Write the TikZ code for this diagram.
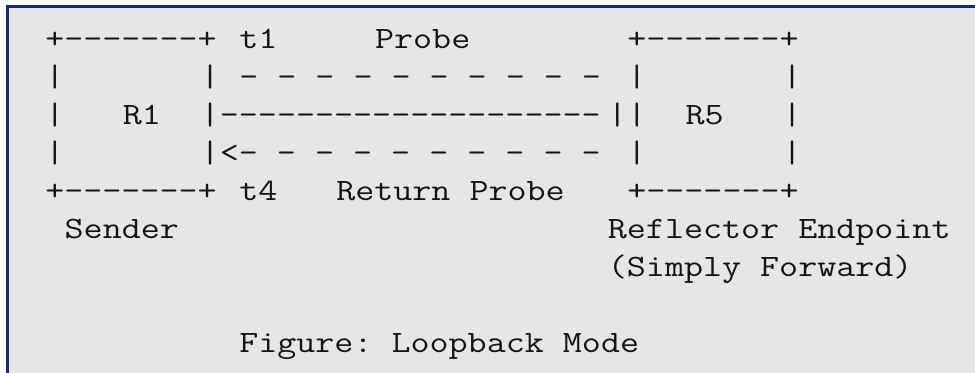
\documentclass[tikz,border=0pt]{standalone}
\usepackage{fontspec}
\setmonofont{Latin Modern Mono}[FakeStretch=1.19]
\definecolor{panelgray}{RGB}{229,230,232}
\definecolor{panelnavy}{RGB}{24,44,104}

\begin{document}
\begin{tikzpicture}[x=0.75pt,y=-0.75pt,
  ch/.style={anchor=base west,inner sep=0pt,outer sep=0pt,
    font=\ttfamily\fontsize{23.3pt}{28.5pt}\selectfont,text=black!92}]
\useasboundingbox (0,0) rectangle (975,373);

% the panel behind the figure
\fill[panelgray] (7.5,6.5) rectangle (975,373);
\draw[panelnavy,line width=2.25pt] (7.5,373) -- (7.5,6.5) -- (975,6.5);

\begin{scope}[shift={(45.3,49)},x=14.55pt,y=-28.5pt]
% define the two boxes
  \node[ch] (r1top) at (0,0) {+-------+};
  \node[ch] (r1bot) at (0,4) {+-------+};
  \node[ch] (r5top) at (30,0) {+-------+};
  \node[ch] (r5bot) at (30,4) {+-------+};
  \foreach \c in {0,8,30,38}
    \foreach \r in {1,2,3}
      \node[ch] (bar-\c-\r) at (\c,\r) {|};
  \node[ch] (r1) at (4,2) {R1};
  \node[ch] (r5) at (33,2) {R5};

% define the links
  \node[ch] (probeline)  at (10,1) {- - - - - - - - - -};
  \node[ch] (loopline)   at (9,2)  {--------------------};
  \node[ch] (loopend)    at (29,2) {|};
  \node[ch] (returnline) at (9,3)  {<- - - - - - - - - -};

% define the labels
  \node[ch] (t1)       at (10,0) {t1};
  \node[ch] (probe)    at (17,0) {Probe};
  \node[ch] (t4)       at (10,4) {t4};
  \node[ch] (retprobe) at (15,4) {Return Probe};
  \node[ch] (sender)    at (1,5)  {Sender};
  \node[ch] (reflector) at (29,5) {Reflector Endpoint};
  \node[ch] (forward)   at (29,6) {(Simply Forward)};
  \node[ch] (caption)   at (10,8) {Figure: Loopback Mode};
\end{scope}

\end{tikzpicture}
\end{document}
